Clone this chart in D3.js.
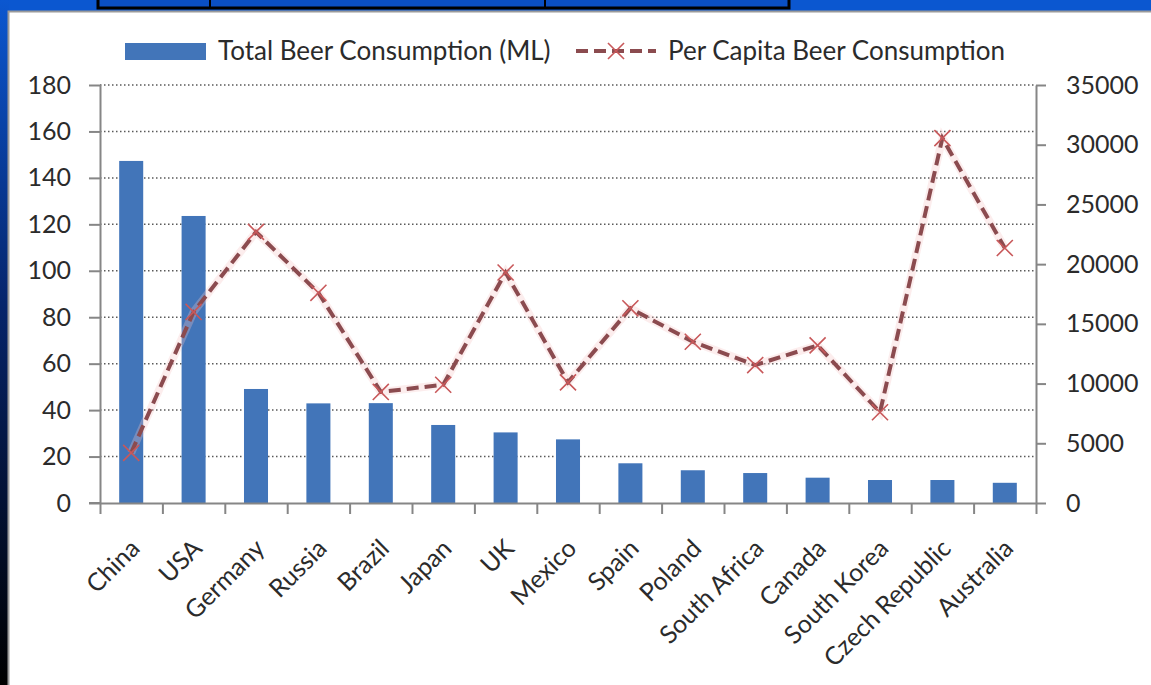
<!DOCTYPE html>
<html>
<head>
<meta charset="utf-8">
<script src="https://cdn.jsdelivr.net/npm/d3@7"></script>
<style>
  html, body { margin: 0; padding: 0; background: #0b57d0; }
  svg { display: block; font-family: Lato, 'Open Sans', sans-serif; }
</style>
</head>
<body>
<div id="chart"></div>
<script>
const countries = ['China', 'USA', 'Germany', 'Russia', 'Brazil', 'Japan', 'UK', 'Mexico',
  'Spain', 'Poland', 'South Africa', 'Canada', 'South Korea', 'Czech Republic', 'Australia'];
const totalConsumption = [147.3, 123.6, 49.1, 42.9, 43.0, 33.6, 30.4, 27.4, 17.1, 14.1, 12.9, 10.9, 9.9, 9.9, 8.7];
const perCapita = [4200, 16000, 22700, 17600, 9300, 9900, 19300, 10100, 16300, 13500, 11550, 13200, 7600, 30550, 21350];
const leftTicks = [0, 20, 40, 60, 80, 100, 120, 140, 160, 180];
const rightTicks = [0, 5000, 10000, 15000, 20000, 25000, 30000, 35000];
const seriesNames = ['Total Beer Consumption (ML)', 'Per Capita Beer Consumption'];

class BeerChart {
  constructor(_config) {
    this.config = {
      parentElement: _config.parentElement,
      width: 1151,
      height: 685,
      plot: { left: 100, right: 1036, top: 85, bottom: 503 }
    };
    this.initVis();
  }

  initVis() {
    const vis = this;
    const c = vis.config;

    vis.svg = d3.select(c.parentElement).append('svg')
      .attr('width', c.width)
      .attr('height', c.height);

    // slide frame: blue band on top, dark strip on the left
    const defs = vis.svg.append('defs');
    const grad = defs.append('linearGradient')
      .attr('id', 'leftStrip').attr('x1', 0).attr('y1', 0).attr('x2', 0).attr('y2', 1);
    grad.append('stop').attr('offset', '0%').attr('stop-color', '#0b57d0');
    grad.append('stop').attr('offset', '45%').attr('stop-color', '#06246a');
    grad.append('stop').attr('offset', '100%').attr('stop-color', '#000000');

    vis.svg.append('rect').attr('width', c.width).attr('height', c.height).attr('fill', '#0b57d0');
    vis.svg.append('rect').attr('x', 0).attr('y', 0).attr('width', 9).attr('height', c.height)
      .attr('fill', 'url(#leftStrip)');

    // black box at the top
    vis.svg.append('rect').attr('x', 98).attr('y', -4).attr('width', 691).attr('height', 12)
      .attr('fill', '#0a4fc4').attr('stroke', '#000').attr('stroke-width', 3);
    vis.svg.append('line').attr('x1', 210).attr('x2', 210).attr('y1', 0).attr('y2', 8)
      .attr('stroke', '#000').attr('stroke-width', 2);
    vis.svg.append('line').attr('x1', 545).attr('x2', 545).attr('y1', 0).attr('y2', 8)
      .attr('stroke', '#000').attr('stroke-width', 2);

    // white chart panel
    vis.svg.append('rect').attr('x', 8.5).attr('y', 11.5).attr('width', c.width).attr('height', c.height)
      .attr('fill', '#fff').attr('stroke', '#9a9a9a').attr('stroke-width', 2);

    vis.chart = vis.svg.append('g');
    vis.updateVis();
  }

  updateVis() {
    const vis = this;
    const p = vis.config.plot;

    vis.xScale = d3.scaleBand()
      .domain(countries)
      .range([p.left, p.right])
      .paddingInner(0.615)
      .paddingOuter(0.3075);

    // boundaries between categories, for the tick marks
    vis.xEdge = d3.scaleLinear().domain([0, countries.length]).range([p.left, p.right]);

    vis.yLeft = d3.scaleLinear().domain([0, 180]).range([p.bottom, p.top]);
    vis.yRight = d3.scaleLinear().domain([0, 35000]).range([p.bottom, p.top]);

    vis.renderVis();
  }

  renderVis() {
    const vis = this;
    const p = vis.config.plot;
    const axisColor = '#868686';
    const textColor = '#2b2b2b';
    const fontFamily = "Lato, 'Open Sans', sans-serif";

    // dotted gridlines
    vis.chart.append('g')
      .selectAll('line')
      .data(leftTicks.filter(d => d > 0))
      .join('line')
      .attr('x1', p.left).attr('x2', p.right)
      .attr('y1', d => vis.yLeft(d)).attr('y2', d => vis.yLeft(d))
      .attr('stroke', '#5a5a5a')
      .attr('stroke-width', 1.5)
      .attr('stroke-dasharray', '1.5,2.5');

    // bars
    vis.chart.append('g')
      .selectAll('.bar')
      .data(countries)
      .join('rect')
      .attr('class', 'bar')
      .attr('x', d => vis.xScale(d))
      .attr('width', vis.xScale.bandwidth())
      .attr('y', (d, i) => vis.yLeft(totalConsumption[i]))
      .attr('height', (d, i) => p.bottom - vis.yLeft(totalConsumption[i]))
      .attr('fill', '#4275b9');

    // axes
    const leftAxis = d3.axisLeft(vis.yLeft).tickValues(leftTicks).tickSize(11).tickSizeOuter(0).tickPadding(18);
    const rightAxis = d3.axisRight(vis.yRight).tickValues(rightTicks).tickSize(10).tickSizeOuter(0)
      .tickPadding(20).tickFormat(d3.format('d'));
    const edgeAxis = d3.axisBottom(vis.xEdge).tickValues(d3.range(countries.length + 1))
      .tickSize(11).tickSizeOuter(0).tickFormat('');
    const labelAxis = d3.axisBottom(vis.xScale).tickSize(0).tickSizeOuter(0);

    const styleAxis = g => {
      g.attr('font-family', fontFamily);
      g.select('.domain').attr('stroke', axisColor).attr('stroke-width', 2);
      g.selectAll('.tick line').attr('stroke', axisColor).attr('stroke-width', 2);
      g.selectAll('.tick text').attr('fill', textColor).attr('font-size', 25);
    };

    vis.chart.append('g').attr('transform', `translate(${p.left},0)`).call(leftAxis).call(styleAxis);
    vis.chart.append('g').attr('transform', `translate(${p.right},0)`).call(rightAxis).call(styleAxis);
    vis.chart.append('g').attr('transform', `translate(0,${p.bottom})`).call(edgeAxis).call(styleAxis);
    // extend the base line to the left tick
    vis.chart.append('line').attr('x1', p.left - 11).attr('x2', p.left)
      .attr('y1', p.bottom).attr('y2', p.bottom).attr('stroke', axisColor).attr('stroke-width', 2);

    const labels = vis.chart.append('g').attr('transform', `translate(0,${p.bottom})`).call(labelAxis);
    labels.attr('font-family', fontFamily);
    labels.select('.domain').remove();
    labels.selectAll('.tick text')
      .attr('fill', textColor)
      .attr('font-size', 25)
      .style('text-anchor', 'end')
      .attr('dy', 0)
      .attr('y', 0)
      .attr('transform', 'translate(10,47) rotate(-45)');

    // per capita line, soft pink glow under a dashed line
    const line = d3.line()
      .x((d, i) => vis.xScale(countries[i]) + vis.xScale.bandwidth() / 2)
      .y(d => vis.yRight(d));

    vis.chart.append('path').datum(perCapita)
      .attr('d', line).attr('fill', 'none')
      .attr('stroke', '#f6c4c4').attr('stroke-opacity', 0.3).attr('stroke-width', 8);
    vis.chart.append('path').datum(perCapita)
      .attr('d', line).attr('fill', 'none')
      .attr('stroke', '#8b4b4f').attr('stroke-width', 4)
      .attr('stroke-dasharray', '12,6');

    const cross = d3.symbol().type(d3.symbolX).size(170);
    vis.chart.append('g')
      .selectAll('path')
      .data(perCapita)
      .join('path')
      .attr('transform', (d, i) =>
        `translate(${vis.xScale(countries[i]) + vis.xScale.bandwidth() / 2},${vis.yRight(d)})`)
      .attr('d', cross)
      .attr('fill', 'none')
      .attr('stroke', '#c8585a')
      .attr('stroke-width', 1.6);

    // legend
    const legend = vis.chart.append('g').attr('font-family', fontFamily);
    legend.append('rect').attr('x', 125).attr('y', 43).attr('width', 81).attr('height', 17).attr('fill', '#4275b9');
    legend.append('text').attr('x', 218).attr('y', 60).attr('font-size', 26).attr('fill', textColor)
      .text(seriesNames[0]);
    legend.append('line').attr('x1', 576).attr('x2', 656).attr('y1', 51).attr('y2', 51)
      .attr('stroke', '#8b4b4f').attr('stroke-width', 4).attr('stroke-dasharray', '12,6');
    legend.append('path').attr('transform', 'translate(616,51)').attr('d', cross)
      .attr('fill', 'none').attr('stroke', '#c8585a').attr('stroke-width', 1.6);
    legend.append('text').attr('x', 668).attr('y', 60).attr('font-size', 26).attr('fill', textColor)
      .text(seriesNames[1]);
  }
}

new BeerChart({ parentElement: '#chart' });
</script>
</body>
</html>
